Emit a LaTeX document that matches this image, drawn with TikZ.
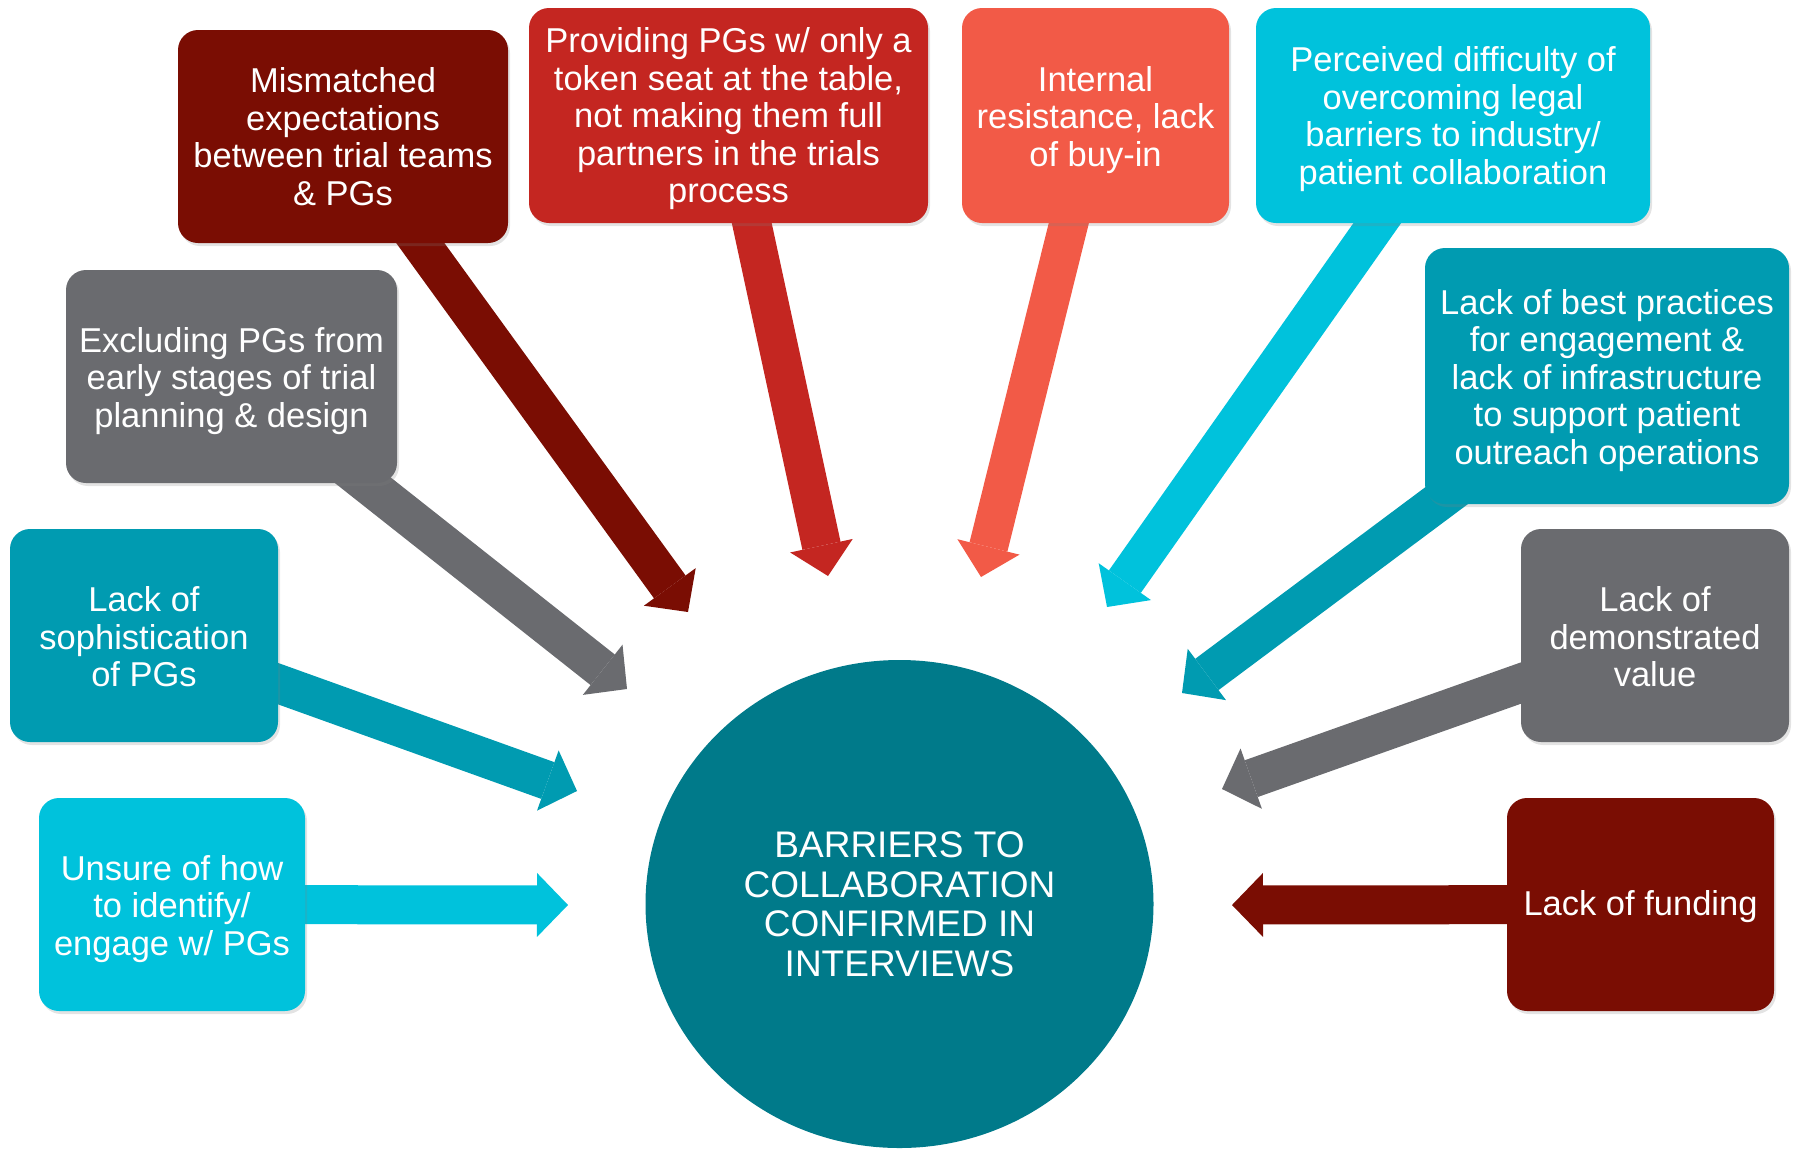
\documentclass[tikz,border=0pt]{standalone}
\usepackage{fontspec}
\setmainfont{Liberation Sans}
\usetikzlibrary{arrows.meta,shapes.geometric,shadows,backgrounds}

\definecolor{cDarkRed}{HTML}{7A0D03}
\definecolor{cRed}{HTML}{C42621}
\definecolor{cCoral}{HTML}{F25A47}
\definecolor{cCyan}{HTML}{00C2DC}
\definecolor{cTeal}{HTML}{009BB1}
\definecolor{cGray}{HTML}{6A6B6F}
\definecolor{cHub}{HTML}{007A8A}

\begin{document}
\begin{tikzpicture}[x=1pt,y=-1pt,
  box/.style={rectangle, rounded corners=20pt, inner sep=0pt,
    drop shadow={shadow xshift=2pt, shadow yshift=-3pt, opacity=0.22}},
  boxtext/.style={inner sep=0pt, text=white, align=center,
    font=\fontsize{34.5}{37.5}\selectfont},
  hub/.style={ellipse, inner sep=0pt, fill=cHub, text=white, align=center,
    font=\fontsize{37}{39.5}\selectfont},
  feed/.style={line width=39pt, draw=#1,
    -{Triangle[width=64pt,length=31pt,line width=0pt]}},
]
\useasboundingbox (0,0) rectangle (1799,1152);

% central hub
\node[hub, minimum width=508pt, minimum height=488pt] (hub) at (899.5,904)
  {BARRIERS TO\\COLLABORATION\\CONFIRMED IN\\INTERVIEWS};

% barrier boxes
\node[box, fill=cDarkRed, minimum width=330pt, minimum height=213pt] (mism) at (343,136.5) {};
\node[box, fill=cRed,     minimum width=399pt, minimum height=215pt] (prov) at (728.5,115.5) {};
\node[box, fill=cCoral,   minimum width=267pt, minimum height=215pt] (intl) at (1095.5,115.5) {};
\node[box, fill=cCyan,    minimum width=394pt, minimum height=215pt] (perc) at (1453,115.5) {};
\node[box, fill=cTeal,    minimum width=364pt, minimum height=256pt] (best) at (1607,376) {};
\node[box, fill=cGray,    minimum width=331pt, minimum height=213pt] (excl) at (231.5,376.5) {};
\node[box, fill=cTeal,    minimum width=268pt, minimum height=213pt] (soph) at (144,635.5) {};
\node[box, fill=cCyan,    minimum width=266pt, minimum height=213pt] (unsure) at (172,904.5) {};
\node[box, fill=cGray,    minimum width=268pt, minimum height=213pt] (value) at (1655,635.5) {};
\node[box, fill=cDarkRed, minimum width=267pt, minimum height=213pt] (fund) at (1640.5,904.5) {};

% box captions
\node[boxtext] (mism-t) at (mism.center)
  {Mismatched\\expectations\\between trial teams\\\& PGs};
\node[boxtext] (prov-t) at ([yshift=-3.4pt]prov.center)
  {Providing PGs w/ only a\\token seat at the table,\\not making them full\\partners in the trials\\process};
\node[boxtext] (intl-t) at ([yshift=-4.4pt]intl.center)
  {Internal\\resistance, lack\\of buy-in};
\node[boxtext] (perc-t) at ([yshift=-3.4pt]perc.center)
  {Perceived difficulty of\\overcoming legal\\barriers to industry/\\patient collaboration};
\node[boxtext] (best-t) at ([yshift=-4.4pt]best.center)
  {Lack of best practices\\for engagement \&\\lack of infrastructure\\to support patient\\outreach operations};
\node[boxtext] (excl-t) at ([yshift=-4.4pt]excl.center)
  {Excluding PGs from\\early stages of trial\\planning \& design};
\node[boxtext] (soph-t) at ([yshift=-1.2pt]soph.center)
  {Lack of\\sophistication\\of PGs};
\node[boxtext] (unsure-t) at ([yshift=-4.4pt]unsure.center)
  {Unsure of how\\to identify/\\engage w/ PGs};
\node[boxtext] (value-t) at ([yshift=-1.2pt]value.center)
  {Lack of\\demonstrated\\value};
\node[boxtext] (fund-t) at ([yshift=-2.4pt]fund.center)
  {Lack of funding};

% arrow tips around the hub
\coordinate (t-mism)   at (688,612);
\coordinate (t-prov)   at (828,576);
\coordinate (t-intl)   at (981,577);
\coordinate (t-perc)   at (1107,607);
\coordinate (t-best)   at (1182,693);
\coordinate (t-value)  at (1222,789);
\coordinate (t-fund)   at (1232,905);
\coordinate (t-excl)   at (627,689);
\coordinate (t-soph)   at (577,791);
\coordinate (t-unsure) at (568,905);

% block arrows, drawn beneath the boxes
\begin{pgfonlayer}{background}
\draw[feed=cDarkRed] (mism.center)   -- (t-mism);
\draw[feed=cRed]     (prov.center)   -- (t-prov);
\draw[feed=cCoral]   (intl.center)   -- (t-intl);
\draw[feed=cCyan]    (perc.center)   -- (t-perc);
\draw[feed=cTeal]    (best.center)   -- (t-best);
\draw[feed=cGray]    (value.center)  -- (t-value);
\draw[feed=cDarkRed] (fund.center)   -- (t-fund);
\draw[feed=cGray]    (excl.center)   -- (t-excl);
\draw[feed=cTeal]    (soph.center)   -- (t-soph);
\draw[feed=cCyan]    (unsure.center) -- (t-unsure);
\end{pgfonlayer}
\end{tikzpicture}
\end{document}
